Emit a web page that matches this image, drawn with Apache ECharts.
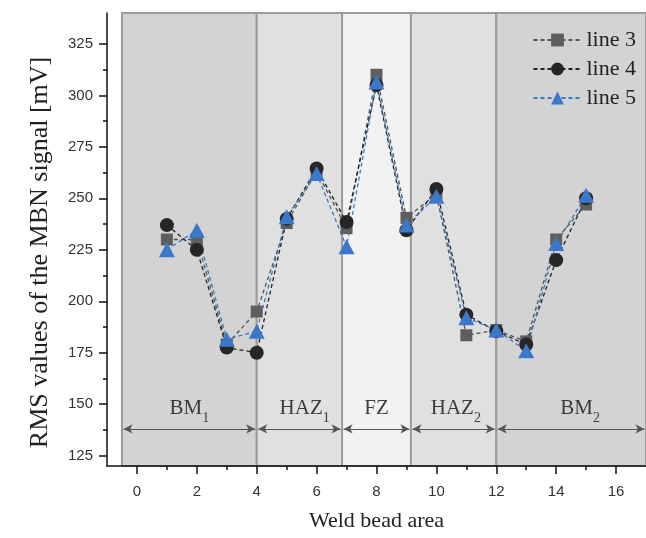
<!DOCTYPE html>
<html>
<head>
<meta charset="utf-8">
<script src="https://cdn.jsdelivr.net/npm/echarts@6/dist/echarts.min.js"></script>
<style>
html,body{margin:0;padding:0;background:#fff;}
#main{width:646px;height:538px;}
</style>
</head>
<body>
<div id="main"></div>
<script>
// ---- data ----
var positions = [1, 2, 3, 4, 5, 6, 7, 8, 9, 10, 11, 12, 13, 14, 15];
var line3 = [230, 230, 179, 195, 238, 263, 235.5, 310, 240.5, 252, 183.5, 186, 180.5, 230, 247];
var line4 = [237, 225, 177.5, 175, 240, 264.5, 238.5, 305, 234.5, 254.5, 193.5, 185.5, 179, 220, 250];
var line5 = [225, 234.5, 181.5, 185.5, 241, 262, 226.5, 306.5, 237, 251, 192, 186, 176, 228, 251.5];
var seriesNames = ['line 3', 'line 4', 'line 5'];

var zoneBounds = [-0.5, 4, 6.85, 9.15, 12, 17];
var zoneNames = ['BM', 'HAZ', 'FZ', 'HAZ', 'BM'];
var zoneSubs = ['1', '1', '', '2', '2'];
var zoneLabelX = [1.75, 5.6, 8.0, 10.65, 14.8];
var zoneLabelY = 149;
var arrowY = 138;

var xLabelTicks = [0, 2, 4, 6, 8, 10, 12, 14, 16];
var xMinorTicks = [1, 3, 5, 7, 9, 11, 13, 15];
var yLabelTicks = [125, 150, 175, 200, 225, 250, 275, 300, 325];
var yMinorTicks = [137.5, 162.5, 187.5, 212.5, 237.5, 262.5, 287.5, 312.5];

// ---- build ----
var zoneColors = ['#d3d3d3', '#e0e0e0', '#f2f2f2', '#e0e0e0', '#d3d3d3'];
function pairs(xs, ys) { return xs.map(function (x, i) { return [x, ys[i]]; }); }

var bandData = [];
var arrowData = [];
for (var i = 0; i < zoneNames.length; i++) {
  bandData.push([{ xAxis: zoneBounds[i], itemStyle: { color: zoneColors[i] } }, { xAxis: zoneBounds[i + 1] }]);
  arrowData.push([{ coord: [zoneBounds[i] + 0.05, arrowY] }, { coord: [zoneBounds[i + 1] - 0.05, arrowY] }]);
}

var serif = '"Liberation Serif", "Times New Roman", serif';
var sans = '"Liberation Sans", Arial, sans-serif';

var zoneLabelData = zoneNames.map(function (n, i) {
  return {
    value: [zoneLabelX[i], zoneLabelY],
    label: { formatter: zoneSubs[i] ? '{m|' + n + '}{s|' + zoneSubs[i] + '}' : '{m|' + n + '}' }
  };
});

var lineCommon = {
  type: 'line',
  xAxisIndex: 0,
  yAxisIndex: 0,
  z: 5
};

var tickStyle = { color: '#111', width: 1.5 };

var option = {
  animation: false,
  backgroundColor: '#ffffff',
  grid: { left: 107, top: 13, width: 540, height: 453 },
  legend: {
    orient: 'vertical',
    right: 5,
    top: 24,
    itemWidth: 48,
    itemHeight: 16,
    itemGap: 7,
    textStyle: { fontFamily: serif, fontSize: 22, color: '#222' },
    data: seriesNames
  },
  xAxis: [{
    type: 'value', min: -1, max: 17, z: 10,
    name: 'Weld bead area', nameLocation: 'middle', nameGap: 44,
    nameTextStyle: { fontFamily: serif, fontSize: 22, color: '#222' },
    axisLine: { show: true, onZero: false, lineStyle: tickStyle },
    axisTick: { show: true, customValues: xLabelTicks, length: 8, lineStyle: tickStyle },
    axisLabel: { customValues: xLabelTicks, margin: 18, fontFamily: sans, fontSize: 15, color: '#333' },
    splitLine: { show: false }
  }, {
    type: 'value', min: -1, max: 17, position: 'bottom', z: 10,
    axisLine: { show: false, onZero: false },
    axisTick: { show: true, customValues: xMinorTicks, length: 4, lineStyle: tickStyle },
    axisLabel: { show: false },
    splitLine: { show: false }
  }],
  yAxis: [{
    type: 'value', min: 120, max: 340, z: 10,
    name: 'RMS values of the MBN signal [mV]', nameLocation: 'middle', nameGap: 54,
    nameTextStyle: { fontFamily: serif, fontSize: 26, color: '#222', padding: [0, 26, 0, 0] },
    axisLine: { show: true, onZero: false, lineStyle: tickStyle },
    axisTick: { show: true, customValues: yLabelTicks, length: 8, lineStyle: tickStyle },
    axisLabel: { customValues: yLabelTicks, margin: 14, fontFamily: sans, fontSize: 15, color: '#333' },
    splitLine: { show: false }
  }, {
    type: 'value', min: 120, max: 340, position: 'left', z: 10,
    axisLine: { show: false, onZero: false },
    axisTick: { show: true, customValues: yMinorTicks, length: 4, lineStyle: tickStyle },
    axisLabel: { show: false },
    splitLine: { show: false }
  }],
  series: [
    {
      type: 'line', name: '_bands', data: [], z: 1, silent: true,
      markArea: {
        silent: true,
        itemStyle: { borderColor: '#9c9c9c', borderWidth: 2 },
        data: bandData
      },
      markLine: {
        silent: true,
        symbol: ['arrow', 'arrow'],
        symbolSize: [7, 9],
        label: { show: false },
        lineStyle: { color: '#555', width: 1, type: 'solid' },
        data: arrowData
      }
    },
    {
      type: 'scatter', name: '_zones', data: zoneLabelData, symbolSize: 0, z: 3, silent: true,
      label: {
        show: true, position: 'inside',
        rich: {
          m: { fontFamily: serif, fontSize: 21, color: '#111', lineHeight: 26, verticalAlign: 'bottom' },
          s: { fontFamily: serif, fontSize: 14, color: '#111', lineHeight: 20, verticalAlign: 'bottom', padding: [0, 0, -6, 0] }
        }
      }
    },
    Object.assign({}, lineCommon, {
      name: 'line 3', data: pairs(positions, line3),
      symbol: 'rect', symbolSize: 12,
      itemStyle: { color: '#5e5e5e' },
      lineStyle: { color: '#555', width: 1.3, type: [4, 3] }
    }),
    Object.assign({}, lineCommon, {
      name: 'line 4', data: pairs(positions, line4),
      symbol: 'circle', symbolSize: 14,
      itemStyle: { color: '#262626' },
      lineStyle: { color: '#222', width: 1.3, type: [4, 3] }
    }),
    Object.assign({}, lineCommon, {
      name: 'line 5', data: pairs(positions, line5),
      symbol: 'triangle', symbolSize: [16, 15],
      itemStyle: { color: '#3b78c9' },
      lineStyle: { color: '#3b78c9', width: 1.3, type: [4, 3] }
    })
  ]
};

var chart = echarts.init(document.getElementById('main'), null, { renderer: 'canvas' });
chart.setOption(option);
</script>
</body>
</html>
